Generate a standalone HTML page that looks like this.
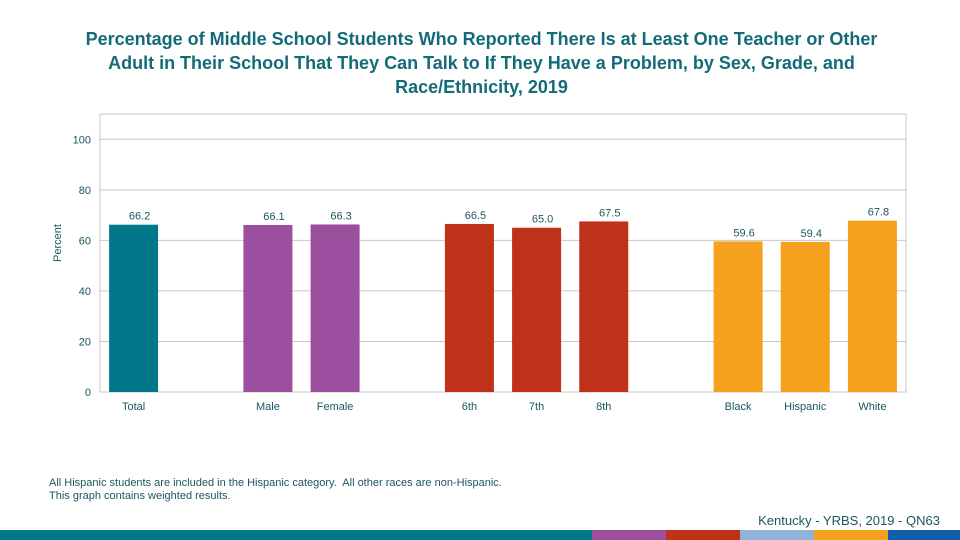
<!DOCTYPE html>
<html><head><meta charset="utf-8"><style>
html,body{margin:0;padding:0;background:#fff;}
body{width:960px;height:540px;position:relative;overflow:hidden;font-family:"Liberation Sans",Arial,sans-serif;}
#title{position:absolute;left:0;top:27px;width:963px;text-align:center;font-weight:bold;font-size:18px;line-height:24px;color:#146b78;}
.note{position:absolute;left:49px;font-size:11px;color:#1d5560;}
#src{position:absolute;right:20px;top:513px;font-size:13px;color:#1d5560;}
.strip{position:absolute;top:530px;height:10px;}
</style></head><body>
<div id="title">Percentage of Middle School Students Who Reported There Is at Least One Teacher or Other<br>Adult in Their School That They Can Talk to If They Have a Problem, by Sex, Grade, and<br>Race/Ethnicity, 2019</div>
<svg id="chart" width="960" height="540" style="position:absolute;left:0;top:0"></svg>
<div class="note" style="top:477px">All Hispanic students are included in the Hispanic category.&nbsp; All other races are non-Hispanic.</div>
<div class="note" style="top:490px">This graph contains weighted results.</div>
<div id="src">Kentucky - YRBS, 2019 - QN63</div>
<div class="strip" style="left:0;width:592px;background:#00788a"></div>
<div class="strip" style="left:592px;width:74px;background:#9b4f9e"></div>
<div class="strip" style="left:666px;width:74px;background:#c0311a"></div>
<div class="strip" style="left:740px;width:74px;background:#8fb4d9"></div>
<div class="strip" style="left:814px;width:74px;background:#f5a11e"></div>
<div class="strip" style="left:888px;width:72px;background:#0f5fa8"></div>
<script>
const categories = ["Total","","Male","Female","","6th","7th","8th","","Black","Hispanic","White"];
const values = [66.2,null,66.1,66.3,null,66.5,65.0,67.5,null,59.6,59.4,67.8];
const barColors = ["#00788a",null,"#9b4f9e","#9b4f9e",null,"#c0311a","#c0311a","#c0311a",null,"#f5a11e","#f5a11e","#f5a11e"];
const yTicks = [0,20,40,60,80,100];

const svg = document.getElementById('chart');
const NS = "http://www.w3.org/2000/svg";
const L=100,R=906,T=114,B=392,Y100=139.3;
const y = v => B - (B - Y100) * v / 100;
const slot = (R - L) / categories.length;
const x = i => L + slot * i + slot / 2;
function mk(tag, attrs, txt){const e=document.createElementNS(NS,tag);for(const k in attrs)e.setAttribute(k,attrs[k]);if(txt!=null)e.textContent=txt;svg.appendChild(e);return e;}

const frame = mk('rect',{x:L,y:T,width:R-L,height:B-T,fill:'none',stroke:'#c8c8c8','stroke-width':1});


yTicks.forEach(t=>{
  const g = mk('line',{x1:L,x2:R,y1:y(t),y2:y(t),stroke:'#c8c8c8','stroke-width':1});
  
  
  const tl = mk('text',{x:91,y:y(t)+4,'text-anchor':'end','font-size':11,fill:'#1d5560'},t);
  
  
});
const yt = mk('text',{x:61,y:243,'text-anchor':'middle','font-size':11,fill:'#1d5560',transform:'rotate(-90 61 243)'},'Percent');



categories.forEach((c,i)=>{
  if(values[i]==null) return;
  const v = values[i];
  const bar = mk('rect',{x:x(i)-24.5,y:y(v),width:49,height:B-y(v),fill:barColors[i]});
  
  
  const vl = mk('text',{x:x(i)+6,y:y(v)-5,'text-anchor':'middle','font-size':11,fill:'#1d5560'},v.toFixed(1));
  
  
  const cl = mk('text',{x:x(i),y:410,'text-anchor':'middle','font-size':11,fill:'#1d5560'},c);
  
  
});
</script>
</body></html>
